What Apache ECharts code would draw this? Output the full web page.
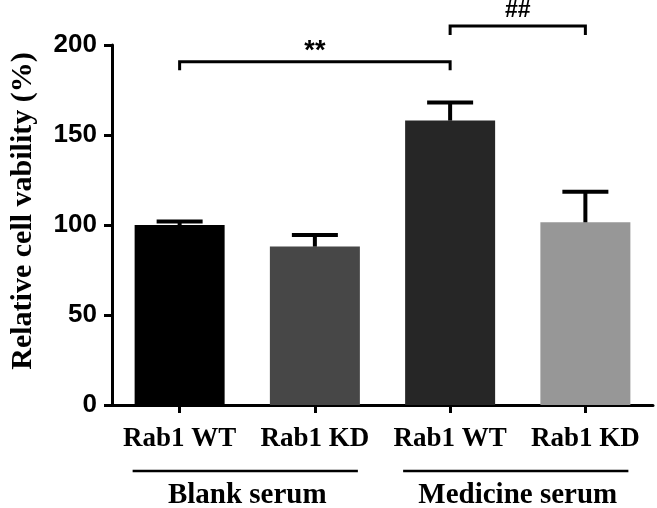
<!DOCTYPE html>
<html>
<head>
<meta charset="utf-8">
<script src="https://cdn.jsdelivr.net/npm/echarts@6/dist/echarts.min.js"></script>
<style>
html,body{margin:0;padding:0;background:#fff;}
#chart{width:657px;height:508px;}
</style>
</head>
<body>
<div id="chart"></div>
<script>
const categories = ['Rab1 WT', 'Rab1 KD', 'Rab1 WT', 'Rab1 KD'];
const groups = ['Blank serum', 'Medicine serum'];
const means = [100, 88, 158, 101.5];
const errors = [2, 6.5, 10, 17];
const barColors = ['#000000', '#474747', '#262626', '#979797'];
const yTicks = [0, 50, 100, 150, 200];
const bracketFrom = [0, 2];
const bracketTo = [2, 3];
const bracketLevel = [190.7, 210.6];
const bracketEnd = [186, 205.6];
const bracketLabels = ['**', '##'];

const SERIF = "'Liberation Serif','Times New Roman',serif";
const SANS = "'Liberation Sans',Arial,sans-serif";

const chart = echarts.init(document.getElementById('chart'));
chart.setOption({
  animation: false,
  backgroundColor: '#fff',
  grid: { left: 110, right: 4, top: 45, bottom: 103, containLabel: false },
  xAxis: {
    type: 'category',
    data: categories,
    boundaryGap: true,
    axisLine: { show: true, lineStyle: { color: '#000', width: 3 } },
    axisTick: { show: true, alignWithLabel: true, length: 8, lineStyle: { color: '#000', width: 3 } },
    axisLabel: { color: '#000', fontFamily: SERIF, fontWeight: 'bold', fontSize: 27, margin: 21, interval: 0 },
    splitLine: { show: false }
  },
  yAxis: {
    type: 'value',
    min: yTicks[0],
    max: yTicks[yTicks.length - 1],
    interval: yTicks[1] - yTicks[0],
    name: 'Relative cell vability (%)',
    nameLocation: 'middle',
    nameRotate: 90,
    nameGap: 74,
    nameTextStyle: { color: '#000', fontFamily: SERIF, fontWeight: 'bold', fontSize: 30, padding: [0, 0, 0, 28] },
    axisLine: { show: true, lineStyle: { color: '#000', width: 3 } },
    axisTick: { show: true, length: 8, lineStyle: { color: '#000', width: 3 } },
    axisLabel: { color: '#000', fontFamily: SANS, fontWeight: 'bold', fontSize: 26, margin: 15 },
    splitLine: { show: false }
  },
  series: [
    {
      type: 'bar',
      barWidth: 90,
      data: means.map((v, i) => ({ value: v, itemStyle: { color: barColors[i] } })),
      z: 2
    },
    {
      type: 'custom',
      clip: false,
      z: 3,
      data: means.map((v, i) => [i, v, errors[i]]),
      encode: { x: 0, y: 1 },
      renderItem: function (params, api) {
        const x = api.value(0), m = api.value(1), e = api.value(2);
        const base = api.coord([x, m]);
        const top = api.coord([x, m + e]);
        const half = 23;
        return {
          type: 'group',
          children: [
            { type: 'line', shape: { x1: base[0], y1: base[1], x2: top[0], y2: top[1] }, style: { stroke: '#000', lineWidth: 4 } },
            { type: 'line', shape: { x1: top[0] - half, y1: top[1], x2: top[0] + half, y2: top[1] }, style: { stroke: '#000', lineWidth: 4 } }
          ]
        };
      }
    },
    {
      type: 'custom',
      clip: false,
      z: 4,
      data: bracketLabels.map((l, i) => [bracketFrom[i], bracketLevel[i]]),
      encode: { x: 0, y: 1 },
      renderItem: function (params, api) {
        const i = params.dataIndex;
        const a = api.coord([bracketFrom[i], bracketLevel[i]]);
        const b = api.coord([bracketTo[i], bracketLevel[i]]);
        const endY = api.coord([bracketFrom[i], bracketEnd[i]])[1];
        const label = bracketLabels[i];
        const isStar = label.indexOf('*') >= 0;
        return {
          type: 'group',
          children: [
            { type: 'polyline', shape: { points: [[a[0], endY], [a[0], a[1]], [b[0], b[1]], [b[0], endY]] }, style: { stroke: '#000', lineWidth: 3, fill: null } },
            { type: 'text', style: { text: label, x: (a[0] + b[0]) / 2, y: a[1] - (isStar ? 10 : 15), textAlign: 'center', textVerticalAlign: 'middle', font: 'bold ' + (isStar ? 27 : 23) + 'px ' + SANS, fill: '#000' } }
          ]
        };
      }
    },
    {
      type: 'custom',
      clip: false,
      z: 4,
      data: groups.map((g, i) => [i * 2, 0]),
      encode: { x: 0, y: 1 },
      renderItem: function (params, api) {
        const g = params.dataIndex;
        const p0 = api.coord([g * 2, 0]);
        const p1 = api.coord([g * 2 + 1, 0]);
        const left = p0[0] - 47, right = p1[0] + 43;
        const ly = p0[1] + 66;
        return {
          type: 'group',
          children: [
            { type: 'line', shape: { x1: left, y1: ly, x2: right, y2: ly }, style: { stroke: '#000', lineWidth: 2.5 } },
            { type: 'text', style: { text: groups[g], x: (p0[0] + p1[0]) / 2, y: ly + 25, textAlign: 'center', textVerticalAlign: 'middle', font: 'bold 29px ' + SERIF, fill: '#000' } }
          ]
        };
      }
    }
  ]
});
</script>
</body>
</html>
